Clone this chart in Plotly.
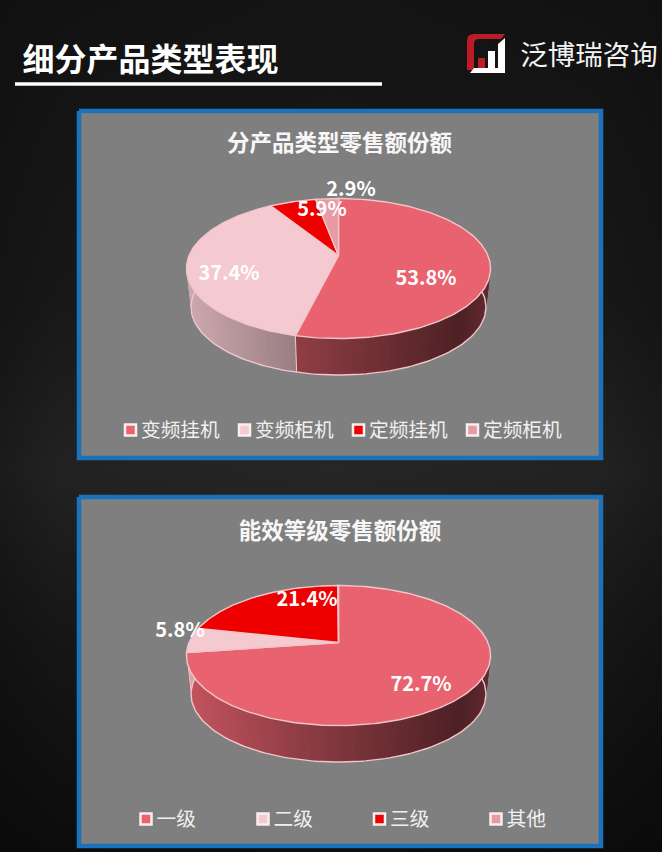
import numpy as np
import plotly.graph_objects as go

# ---- data ----
main_title = "细分产品类型表现"
brand = "泛博瑞咨询"
chart1_title = "分产品类型零售额份额"
chart1_categories = ["变频挂机", "变频柜机", "定频挂机", "定频柜机"]
chart1_values = [53.8, 37.4, 5.9, 2.9]
chart2_title = "能效等级零售额份额"
chart2_categories = ["一级", "二级", "三级", "其他"]
chart2_values = [72.7, 5.8, 21.4, 0.1]
slice_colors = ["#e8636f", "#f4c9d0", "#ee0000", "#e89aa5"]

# background brightness (rough reading, rows top to bottom)
bg_y = [0, 120, 300, 470, 640, 852]
bg_x = [0, 60, 331, 600, 662]
bg_levels = [
    [16, 18, 20, 18, 16],
    [18, 20, 22, 20, 18],
    [20, 24, 26, 24, 20],
    [27, 34, 38, 34, 27],
    [18, 22, 24, 22, 18],
    [10, 12, 14, 12, 10],
]

# ---- layout constants (pixels) ----
W, H = 662, 852
FONT = "Noto Sans CJK SC"
TEXT_DY = 2.5
CX = 338.5
APEX_Y = [255.5, 642.5]
RX, SY, K = 149.4, 67.6, 0.186
DEPTH, BOTTOM_SCALE = 39, 0.97
EDGE = "#f1c6ca"
label_pos1 = [(426, 277), (229, 272), (322, 208), (351, 188)]
label_pos2 = [(421, 683), (180, 629), (307, 598)]
legend_x1 = [130.5, 244.5, 358.5, 472.5]
legend_x2 = [146, 263, 379.5, 496]
legend_y = [430, 819]
panels = [(79, 111, 601, 458), (79, 497, 601, 846)]

fig = go.Figure()

fig.add_trace(go.Heatmap(
    x=bg_x, y=bg_y, z=bg_levels, zsmooth="best", showscale=False, hoverinfo="skip",
    zmin=0, zmax=255, colorscale=[[0, "#000000"], [1, "#ffffff"]],
))

for (x0, y0, x1, y1) in panels:
    fig.add_trace(go.Scatter(
        x=[x0, x1, x1, x0, x0], y=[y0, y0, y1, y1, y0], mode="lines", fill="toself",
        fillcolor="#7f7f7f", line=dict(color="#1a72bd", width=4.5),
        hoverinfo="skip", showlegend=False,
    ))


def project(deg, apex_y, scale=1.0, dy=0.0):
    a = np.radians(deg)
    u, v = np.sin(a), np.cos(a)
    w = 1 + K * v
    return CX + scale * RX * u / w, apex_y + dy - scale * SY * v / w


def shade(x):
    return float(np.interp(x, [187, 296, 460, 490], [0.84, 0.62, 0.33, 0.42]))


def dim(hex_color, f):
    r, g, b = (int(hex_color[i:i + 2], 16) for i in (1, 3, 5))
    return f"rgb({r * f:.0f},{g * f:.0f},{b * f:.0f})"


def poly(xs, ys, fill, line=None, width=0.0):
    fig.add_trace(go.Scatter(
        x=xs, y=ys, mode="lines", fill="toself", fillcolor=fill,
        line=dict(color=line or fill, width=width), hoverinfo="skip", showlegend=False,
    ))


def text_trace(x, y, s, size, color="#ffffff", weight="normal", pos="middle center"):
    fig.add_trace(go.Scatter(
        x=[x], y=[y + TEXT_DY], mode="text", text=[s], textposition=pos, hoverinfo="skip", showlegend=False,
        textfont=dict(family=FONT, size=size, color=color, weight=weight),
    ))


def draw_pie(values, apex_y, labels_at):
    total = sum(values)
    edges = np.concatenate([[0], np.cumsum(values)]) / total * 360
    th = np.linspace(85, 275, 120)
    # side wall, split in narrow strips so it can shade from left to right
    for i, col in enumerate(slice_colors):
        lo, hi = max(edges[i], 78), min(edges[i + 1], 282)
        if hi <= lo:
            continue
        steps = max(1, int((hi - lo) / 2.0))
        cuts = np.linspace(lo, hi, steps + 1)
        for a, b in zip(cuts[:-1], cuts[1:]):
            seg = np.linspace(a, min(b + 1.0, hi), 4)
            x1, y1 = project(seg, apex_y)
            x2, y2 = project(seg[::-1], apex_y, BOTTOM_SCALE, DEPTH)
            poly(np.r_[x1, x2], np.r_[y1, y2], dim(col, shade(x1.mean())))
    bx, by = project(th, apex_y, BOTTOM_SCALE, DEPTH)
    fig.add_trace(go.Scatter(x=bx, y=by, mode="lines", line=dict(color=EDGE, width=1.4),
                             hoverinfo="skip", showlegend=False))
    # vertical seams on the front of the wall
    for e in edges[1:-1]:
        if 95 < e < 265:
            x1, y1 = project(e, apex_y)
            x2, y2 = project(e, apex_y, BOTTOM_SCALE, DEPTH)
            fig.add_trace(go.Scatter(x=[x1, x2], y=[y1, y2], mode="lines",
                                     line=dict(color=EDGE, width=1), hoverinfo="skip", showlegend=False))
    # top face
    for i, col in enumerate(slice_colors):
        seg = np.linspace(edges[i], edges[i + 1], max(3, int(values[i] * 3)))
        x, y = project(seg, apex_y)
        poly(np.r_[CX, x, CX], np.r_[apex_y, y, apex_y], col, line=EDGE, width=1.4)
    # value labels
    for (lx, ly), v in zip(labels_at, values):
        text_trace(lx, ly, f"{v:.1f}%", 20, weight="bold")


shapes = [
    dict(type="rect", xref="x", yref="y", x0=15, x1=382, y0=82.3, y1=85.8,
         fillcolor="#ffffff", line_width=0, layer="above"),
]

# logo
logo_red = dict(type="path", xref="x", yref="y", layer="above", fillcolor="#bb1c28", line_width=0,
                path="M 467 70 L 467 41 Q 467 34 474 34 L 505 34 L 501 39 L 479 39 Q 474 39 474 44 L 474 70 Z")
logo_white = dict(type="path", xref="x", yref="y", layer="above", fillcolor="#ffffff", line_width=0,
                  path="M 470 73 L 505 73 L 505 38 L 498 44 L 498 68 L 495 68 L 495 51 L 488 51 L 488 68 L 474 68 L 470 73 Z")
logo_bar = dict(type="rect", xref="x", yref="y", layer="above", fillcolor="#bb1c28", line_width=0,
                x0=478, x1=485, y0=58, y1=68)
shapes += [logo_red, logo_white, logo_bar]

fig.update_layout(
    width=W, height=H, margin=dict(l=0, r=0, t=0, b=0), autosize=False,
    paper_bgcolor="#141418", plot_bgcolor="#141418", showlegend=False,
    xaxis=dict(range=[0, W], visible=False, fixedrange=True),
    yaxis=dict(range=[H, 0], visible=False, fixedrange=True),
    shapes=shapes,
)

draw_pie(chart1_values, APEX_Y[0], label_pos1)
draw_pie(chart2_values, APEX_Y[1], label_pos2)

text_trace(150.5, 60, main_title, 32, weight="bold")
text_trace(589, 56, brand, 27.5, color="#f2f2f2")
text_trace(339.5, 143, chart1_title, 22.5, color="#f7f7f7", weight="bold")
text_trace(340, 531, chart2_title, 22.5, color="#f7f7f7", weight="bold")


def legend(xs, y, cats):
    for x, cat, col in zip(xs, cats, slice_colors):
        fig.add_trace(go.Scatter(
            x=[x], y=[y], mode="markers", hoverinfo="skip", showlegend=False,
            marker=dict(symbol="square", size=11, color=col, line=dict(color="#f8f0f0", width=2.5)),
        ))
        text_trace(x + 10.5, y, cat, 19.7, color="#f0f0f0", pos="middle right")


legend(legend_x1, legend_y[0], chart1_categories)
legend(legend_x2, legend_y[1], chart2_categories)

fig.write_html("out.html", config=dict(displayModeBar=False),
               post_script="document.body.style.margin='0';document.body.style.background='#141418';")
